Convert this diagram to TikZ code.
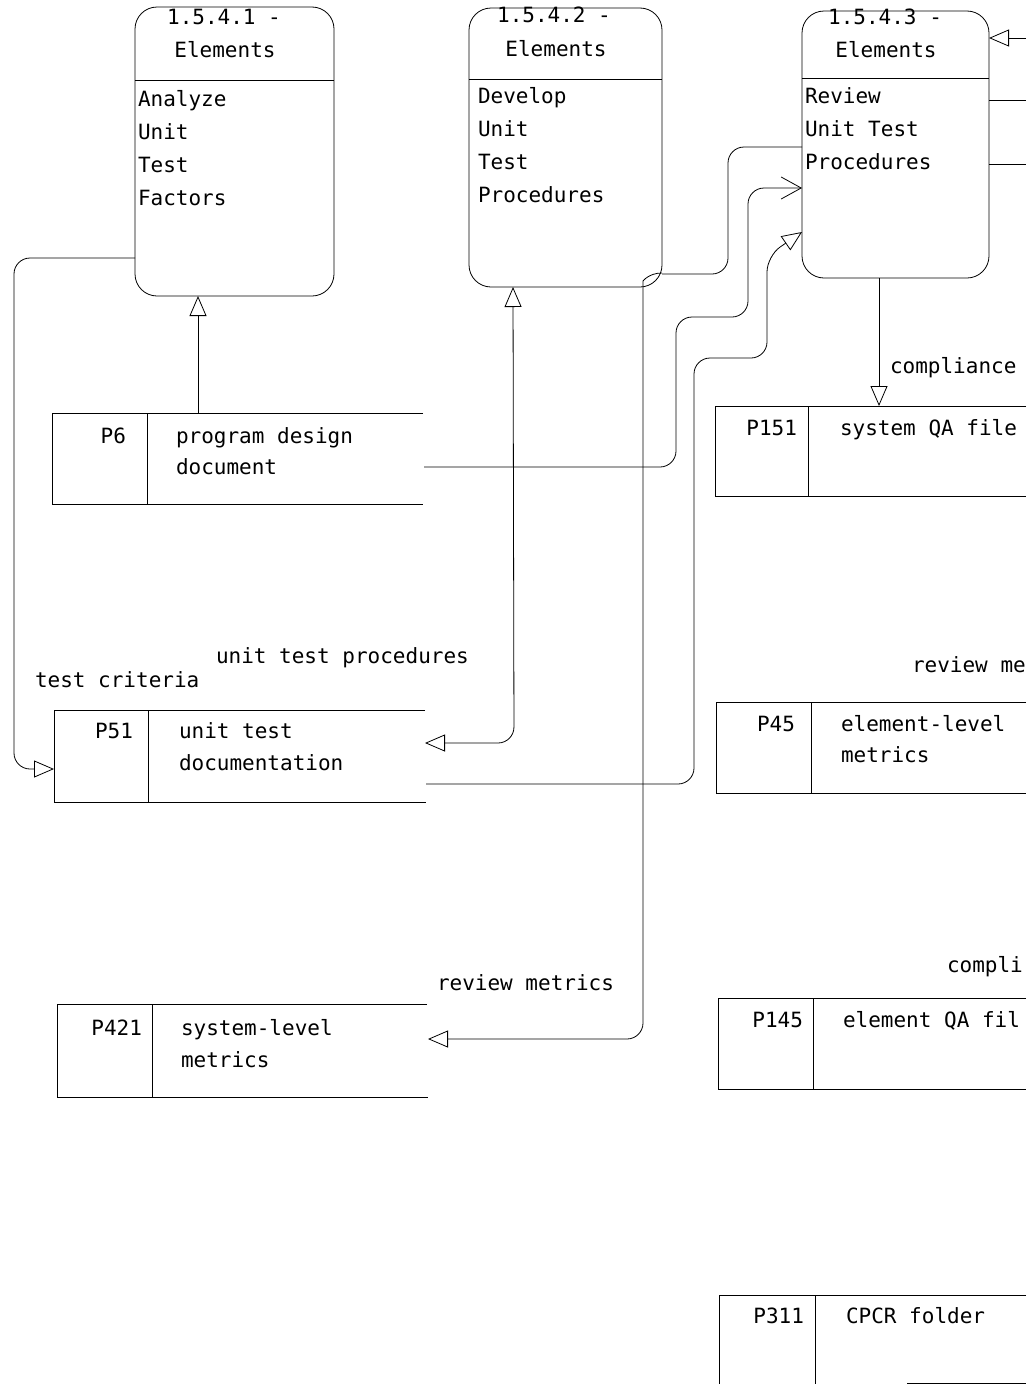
\documentclass[tikz,border=0pt]{standalone}
\usepackage{fontspec}
\setmonofont{DejaVu Sans Mono}
\usetikzlibrary{arrows.meta}
\begin{document}
\begin{tikzpicture}[x=1pt,y=-1pt,
  every node/.style={font=\ttfamily\fontsize{21}{33}\selectfont, inner sep=0pt, outer sep=0pt, text=black},
  ln/.style={line width=0.8pt, draw=black},
  proc/.style={draw=black, line width=0.8pt, rounded corners=22pt, anchor=north west, inner sep=0pt},
  tx/.style={anchor=base west},
  rtx/.style={anchor=base east},
  ctx/.style={anchor=base},
  conn/.style={ln, rounded corners=16pt},
  tri/.style={-{Triangle[open,length=20pt,width=17pt]}},
  tritri/.style={{Triangle[open,length=20pt,width=17pt]}-{Triangle[open,length=20pt,width=17pt]}},
  barb/.style={-{Straight Barb[length=20pt,width=22pt]}},
]
\useasboundingbox (0,0) rectangle (1026,1384);
\fill[white] (0,0) rectangle (1026,1384);

% ---------- process boxes ----------
\node[proc, minimum width=199pt, minimum height=289pt] (b1) at (135,7) {};
\node[proc, minimum width=193pt, minimum height=279pt] (b2) at (469,8) {};
\node[proc, minimum width=187pt, minimum height=267pt] (b3) at (802,11) {};
\draw[ln] (b1.west |- 0,80) -- (b1.east |- 0,80);
\draw[ln] (b2.west |- 0,79) -- (b2.east |- 0,79);
\draw[ln] (b3.west |- 0,78) -- (b3.east |- 0,78);

\node[ctx] (b1n) at (224,24) {1.5.4.1 -};
\node[ctx] (b1e) at (225,57) {Elements};
\node[tx] (b1a) at (138,106) {Analyze};
\node[tx] (b1b) at (138,139) {Unit};
\node[tx] (b1c) at (138,172) {Test};
\node[tx] (b1d) at (138,205) {Factors};

\node[ctx] (b2n) at (554,22) {1.5.4.2 -};
\node[ctx] (b2e) at (556,56) {Elements};
\node[tx] (b2a) at (478,103) {Develop};
\node[tx] (b2b) at (478,136) {Unit};
\node[tx] (b2c) at (478,169) {Test};
\node[tx] (b2d) at (478,202) {Procedures};

\node[ctx] (b3n) at (885,24) {1.5.4.3 -};
\node[ctx] (b3e) at (886,57) {Elements};
\node[tx] (b3a) at (805,103) {Review};
\node[tx] (b3b) at (805,136) {Unit Test};
\node[tx] (b3c) at (805,169) {Procedures};

% ---------- data stores ----------
% P6
\draw[ln] (423,413) -- (52,413) -- (52,504) -- (423,504);
\draw[ln] (147,413) -- (147,504);
\node[rtx] (p6i) at (126,443) {P6};
\node[tx] (p6a) at (176,443) {program design};
\node[tx] (p6b) at (176,474) {document};
\coordinate (p6top) at (198,413);
\coordinate (p6r) at (424,467);
% P51
\draw[ln] (425,710) -- (54,710) -- (54,802) -- (426,802);
\draw[ln] (148,710) -- (148,802);
\node[rtx] (p51i) at (133,738) {P51};
\node[tx] (p51a) at (179,738) {unit test};
\node[tx] (p51b) at (179,770) {documentation};
\coordinate (p51l) at (54,769);
\coordinate (p51in) at (425,743);
\coordinate (p51r) at (426,784);
% P421
\draw[ln] (427,1004) -- (57,1004) -- (57,1097) -- (428,1097);
\draw[ln] (152,1004) -- (152,1097);
\node[rtx] (p421i) at (142,1035) {P421};
\node[tx] (p421a) at (181,1035) {system-level};
\node[tx] (p421b) at (181,1067) {metrics};
\coordinate (p421in) at (428,1039);
% P151
\draw[ln] (1026,406) -- (715,406) -- (715,496) -- (1026,496);
\draw[ln] (808,406) -- (808,496);
\node[rtx] (p151i) at (797,435) {P151};
\node[tx] (p151a) at (840,435) {system QA file};
\coordinate (p151top) at (879,406);
% P45
\draw[ln] (1026,702) -- (716,702) -- (716,793) -- (1026,793);
\draw[ln] (811,702) -- (811,793);
\node[rtx] (p45i) at (795,731) {P45};
\node[tx] (p45a) at (841,731) {element-level};
\node[tx] (p45b) at (841,762) {metrics};
% P145
\draw[ln] (1026,998) -- (718,998) -- (718,1089) -- (1026,1089);
\draw[ln] (813,998) -- (813,1089);
\node[rtx] (p145i) at (803,1027) {P145};
\node[tx] (p145a) at (843,1027) {element QA fil};
% P311
\draw[ln] (1026,1295) -- (719,1295) -- (719,1384);
\draw[ln] (815,1295) -- (815,1384);
\draw[ln] (907,1383) -- (1026,1383);
\node[rtx] (p311i) at (804,1323) {P311};
\node[tx] (p311a) at (846,1323) {CPCR folder};

% ---------- labels ----------
\node[tx] (l1) at (35,687) {test criteria};
\node[tx] (l2) at (216,663) {unit test procedures};
\node[tx] (l3) at (437,990) {review metrics};
\node[tx] (l4) at (890,373) {compliance};
\node[tx] (l5) at (912,672) {review me};
\node[tx] (l6) at (947,972) {compli};

% ---------- connectors ----------
\draw[conn,tri] (b1.west |- 0,258) -- (14,258) -- (14,769) -- (p51l);
\draw[conn,tri] (p6top) -- (b1.south -| p6top);
\draw[conn,tritri] (b2.south -| 513,0) -- (514,743) -- (p51in);
\draw[conn,tri] (b2.east |- 0,273) .. controls (649,273) and (643,281) .. (643,297) -- (643,1039) -- (p421in);
\draw[conn] (b2.east |- 0,274) -- (728,274) -- (728,147) -- (b3.west |- 0,147);
\draw[conn,barb] (p6r) -- (676,467) -- (676,317) -- (748,317) -- (748,188) -- (b3.west |- 0,188);
\draw[conn,tri] (p51r) -- (694,784) -- (694,358) -- (767,358) -- (767,256) -- (b3.west |- 0,232);
\draw[conn,tri] (b3.south -| p151top) -- (p151top);
\coordinate (rin) at (1026,38);
\coordinate (rout1) at (1026,100);
\coordinate (rout2) at (1026,164);
\draw[conn,tri] (rin) -- (b3.east |- rin);
\draw[ln] (b3.east |- rout1) -- (rout1);
\draw[ln] (b3.east |- rout2) -- (rout2);
\end{tikzpicture}
\end{document}
